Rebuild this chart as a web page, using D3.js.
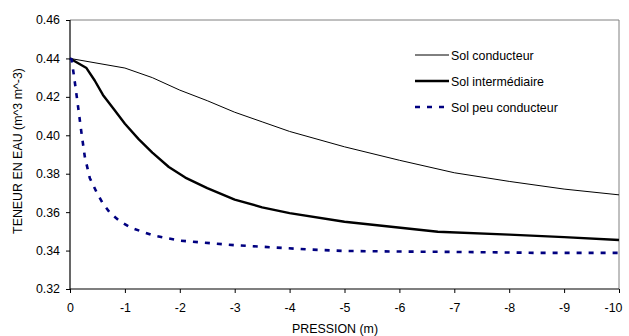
<!DOCTYPE html>
<html><head><meta charset="utf-8">
<script src="https://cdn.jsdelivr.net/npm/d3@7"></script>
<style>
body{margin:0;background:#fff;}
svg{display:block;font-family:"Liberation Sans",Arial,sans-serif;}
</style></head>
<body><svg id="c" width="629" height="336"></svg>
<script>
const seriesNames = ["Sol conducteur","Sol intermédiaire","Sol peu conducteur"];
const xTicks = [0,-1,-2,-3,-4,-5,-6,-7,-8,-9,-10];
const yTicks = [0.32,0.34,0.36,0.38,0.40,0.42,0.44,0.46];

const conducteurP = [0,-1,-1.5,-2,-2.5,-3,-3.5,-4,-5,-6,-7,-8,-9,-10];
const conducteurV = [0.44,0.435,0.430,0.4235,0.418,0.412,0.407,0.402,0.394,0.387,0.3805,0.376,0.372,0.369];

const intermP = [0,-0.3,-0.45,-0.6,-0.8,-1,-1.25,-1.5,-1.8,-2.1,-2.5,-3,-3.5,-4,-5,-6.7,-8,-9,-10];
const intermV = [0.44,0.435,0.4285,0.421,0.4135,0.406,0.398,0.391,0.3835,0.378,0.3725,0.3665,0.3625,0.3595,0.355,0.3498,0.3483,0.347,0.3455];

const peuP = [0,-0.03,-0.09,-0.15,-0.21,-0.27,-0.36,-0.49,-0.6,-0.73,-0.9,-1.1,-1.5,-2,-3,-4.4,-5,-6,-7,-8,-8.5,-9,-10];
const peuV = [0.44,0.4395,0.4272,0.4143,0.401,0.3888,0.3778,0.370,0.3645,0.3596,0.3555,0.352,0.348,0.3452,0.3428,0.3405,0.3398,0.3395,0.3393,0.339,0.3388,0.3388,0.3388];

const svg = d3.select("#c");
const L=70, R=619, T=20, B=289;
const FS = 12.4;
const x = d3.scaleLinear().domain([0,-10]).range([L,R]);
const y = d3.scaleLinear().domain([0.32,0.46]).range([B,T]);

// frame top/right gray
svg.append("path").attr("d",`M${L},${T}H${R}V${B}`).attr("fill","none").attr("stroke","#808080").attr("stroke-width",1);

const fmt = d3.format(".2f");
const yAxis = svg.append("g").attr("transform",`translate(${L},0)`)
  .call(d3.axisLeft(y).tickValues(yTicks).tickFormat(fmt).tickSize(4).tickPadding(6));
const xAxis = svg.append("g").attr("transform",`translate(0,${B})`)
  .call(d3.axisBottom(x).tickValues(xTicks).tickFormat(d=>String(d)).tickSize(4).tickPadding(10));
[yAxis,xAxis].forEach(a=>{
  a.selectAll("path").attr("stroke","#000").attr("stroke-width",1.2);
  a.selectAll("line").attr("stroke","#000");
  a.selectAll("text").attr("font-size",FS).attr("fill","#000").attr("font-family","Liberation Sans, Arial, sans-serif");
});
yAxis.select(".domain").attr("d",`M0,${T}V${B}`);
xAxis.select(".domain").attr("d",`M${L},0H${R}`);
xAxis.selectAll(".tick text").filter(d=>d===-10).attr("text-anchor","end").attr("x",3);

const line = d3.line().x(d=>x(d[0])).y(d=>y(d[1])).curve(d3.curveLinear);
const styles = [
  {w:1, c:"#000", dash:null},
  {w:2.4, c:"#000", dash:null},
  {w:2.6, c:"#000080", dash:"5,7"}
];
const data = [
  d3.zip(conducteurP,conducteurV),
  d3.zip(intermP,intermV),
  d3.zip(peuP,peuV)
];
data.forEach((d,i)=>{
  svg.append("path").attr("d",line(d)).attr("fill","none")
    .attr("stroke",styles[i].c).attr("stroke-width",styles[i].w)
    .attr("stroke-linejoin","round")
    .attr("stroke-dasharray",styles[i].dash);
});

// legend
const ly=[55,81,107];
seriesNames.forEach((n,i)=>{
  svg.append("line").attr("x1",415).attr("x2",449).attr("y1",ly[i]).attr("y2",ly[i])
    .attr("stroke",styles[i].c).attr("stroke-width",styles[i].w)
    .attr("stroke-dasharray",styles[i].dash);
  svg.append("text").attr("x",451).attr("y",ly[i]+4.5).attr("font-size",FS).text(n);
});

svg.append("text").attr("x",335).attr("y",333).attr("text-anchor","middle").attr("font-size",FS).text("PRESSION (m)");
svg.append("text").attr("transform",`translate(21.5,151) rotate(-90)`).attr("text-anchor","middle").attr("font-size",FS).text("TENEUR EN EAU (m^3 m^-3)");
</script></body></html>
